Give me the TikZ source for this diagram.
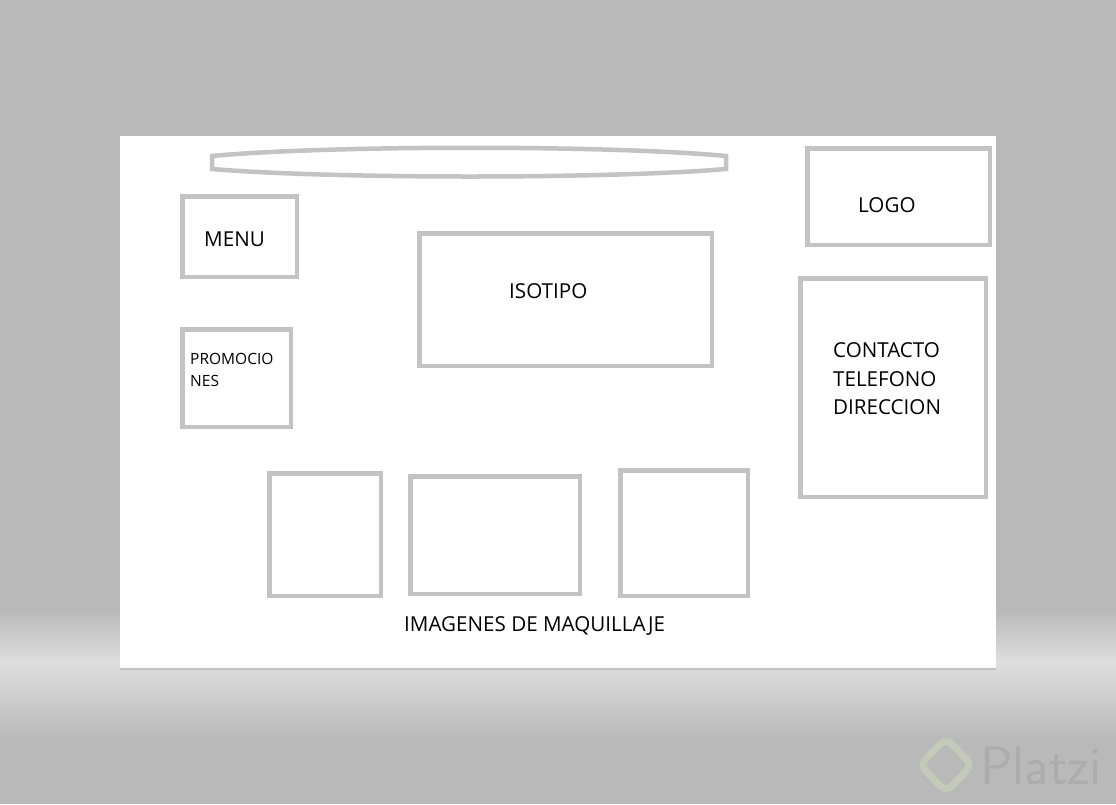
\documentclass[tikz,border=0pt]{standalone}
\usepackage{fontspec}
\setmainfont{Open Sans}
\usetikzlibrary{positioning}

\definecolor{bggray}{HTML}{B8B9B8}
\definecolor{bglight}{HTML}{DEDEDE}
\definecolor{boxgray}{HTML}{C3C3C3}
\definecolor{markgray}{HTML}{ABACAB}
\definecolor{markgreen}{HTML}{C4C9B8}

\begin{document}
\begin{tikzpicture}
  [x=1pt,y=-1pt,
  box/.style={rectangle,draw=boxgray,line width=4.5pt,fill=white,inner sep=0pt},
  label/.style={inner sep=0pt,anchor=west,font=\fontsize{20.6}{24}\selectfont},
  smalllabel/.style={inner sep=0pt,anchor=west,font=\fontsize{15.5}{18}\selectfont}]
  \useasboundingbox (0,0) rectangle (1116,804);

  % background
  \fill[bggray] (0,0) rectangle (1116,610);
  \fill[top color=bggray,bottom color=bglight] (0,610) rectangle (1116,662);
  \fill[top color=bglight,bottom color=bggray] (0,662) rectangle (1116,740);
  \fill[bggray] (0,740) rectangle (1116,804);
  \fill[black!25] (120,667) rectangle (996,670);
  \fill[white] (120,136) rectangle (996,668);

  % search bar
  \draw[boxgray,line width=4.5pt] (212,156) .. controls (330,145) and (610,145) .. (726,156)
    -- (726,169) .. controls (610,179) and (330,179) .. (212,169) -- cycle;

  \node[box,minimum width=114.5,minimum height=80.5] (menu) at (239.5,236.5) {};
  \node[box,minimum width=108.5,minimum height=97.5] (promo) at (236.5,378) {};
  \node[box,minimum width=292.5,minimum height=132.5] (isotipo) at (565.5,299.5) {};
  \node[box,minimum width=182.5,minimum height=96.5] (logo) at (898.5,196.5) {};
  \node[box,minimum width=185.5,minimum height=218.5] (contacto) at (893,387.5) {};

  \node[box,minimum width=111.5,minimum height=122.5] (img1) at (325,534.5) {};
  \node[box,minimum width=169.5,minimum height=117.5] (img2) at (495,535) {};
  \node[box,minimum width=127.5,minimum height=125.5] (img3) at (684,533) {};

  \node[label] (menutxt) at (204,239.5) {MENU};
  \node[smalllabel] (promotxt1) at (190,359) {PROMOCIO};
  \node[smalllabel] (promotxt2) at (190,381) {NES};
  \node[label] (isotxt) at (509,291.5) {ISOTIPO};
  \node[label] (logotxt) at (858,205.5) {LOGO};
  \node[label] (contxt1) at (833,350.5) {CONTACTO};
  \node[label] (contxt2) at (833,379.5) {TELEFONO};
  \node[label] (contxt3) at (833,407.5) {DIRECCION};
  \node[label] (imgtxt) at (404,625.5) {IMAGENES DE MAQUILLAJE};

  % watermark
  \draw[markgreen,line width=7pt,rounded corners=8pt] (946,738) -- (972,765) -- (946,792) -- (920,765) -- cycle;
  \node[inner sep=0pt,anchor=west,text=markgray,font=\sffamily\fontsize{54}{54}\selectfont] (mark) at (980,766) {Platzi};
\end{tikzpicture}
\end{document}
